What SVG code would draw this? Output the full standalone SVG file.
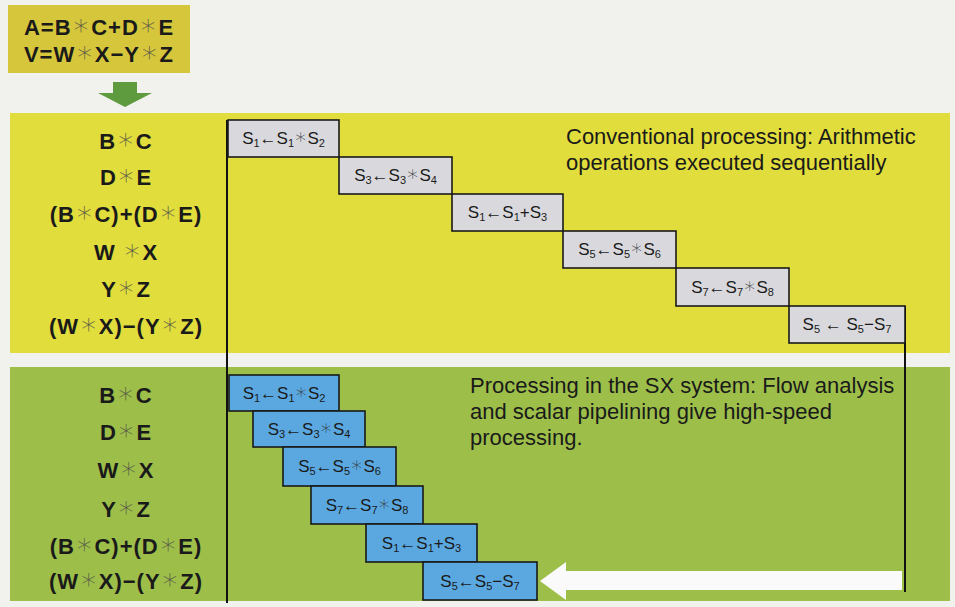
<svg xmlns="http://www.w3.org/2000/svg" width="955" height="607" viewBox="0 0 955 607">
  <style>
    .lab { font-family: "Liberation Sans", "DejaVu Sans", sans-serif; font-weight: bold; font-size: 22px; letter-spacing: 1px; fill: #1a1a1a; text-anchor: middle; }
    .ast { font-family: "DejaVu Sans", sans-serif; font-weight: 200; font-size: 1.35em; fill: #5a5a48; }
    .desc { font-family: "Liberation Sans", "DejaVu Sans", sans-serif; font-size: 22px; fill: #1a1a1a; }
    .op { font-family: "Liberation Sans", "DejaVu Sans", sans-serif; font-size: 17px; fill: #1a1a1a; text-anchor: middle; }
    .op .ast { fill: #333; font-size: 1.25em; }
    .sub { font-size: 11px; }
    .gray { fill: #d9d9dd; stroke: #1a1a1a; stroke-width: 1.6; }
    .blue { fill: #5ba8e0; stroke: #1a1a1a; stroke-width: 1.6; }
    .line { stroke: #111; stroke-width: 2; fill: none; }
  </style>

  <!-- page background -->
  <rect x="0" y="0" width="955" height="607" fill="#f1f1ee"/>

  <!-- source statements -->
  <g id="formula">
    <rect x="8" y="5" width="182" height="68" fill="#d6c63c"/>
    <text class="lab" x="99" y="35" font-size="20" letter-spacing="-0.2">A=B<tspan class="ast" font-size="0.9em">∗</tspan>C+D<tspan class="ast" font-size="0.9em">∗</tspan>E</text>
    <text class="lab" x="99" y="62" font-size="20" letter-spacing="-0.2">V=W<tspan class="ast" font-size="0.9em">∗</tspan>X−Y<tspan class="ast" font-size="0.9em">∗</tspan>Z</text>
  </g>

  <!-- down arrow -->
  <g id="down-arrow">
    <polygon points="113,82 137,82 137,93 152,93 125,107 98,93 113,93" fill="#5e9b3e"/>
  </g>

  <!-- panels -->
  <g id="panel-conventional">
    <rect x="10" y="113" width="940" height="240" fill="#e1dd3c"/>
  </g>
  <g id="panel-sx">
    <rect x="10" y="367" width="940" height="234" fill="#9dbf4a"/>
  </g>

  <!-- conventional operation labels -->
  <g id="labels-conventional">
    <text class="lab" x="126" y="149">B<tspan class="ast">∗</tspan>C</text>
    <text class="lab" x="126" y="185">D<tspan class="ast">∗</tspan>E</text>
    <text class="lab" x="126" y="222">(B<tspan class="ast">∗</tspan>C)+(D<tspan class="ast">∗</tspan>E)</text>
    <text class="lab" x="126" y="260">W <tspan class="ast">∗</tspan>X</text>
    <text class="lab" x="126" y="297">Y<tspan class="ast">∗</tspan>Z</text>
    <text class="lab" x="126" y="334">(W<tspan class="ast">∗</tspan>X)−(Y<tspan class="ast">∗</tspan>Z)</text>
  </g>

  <!-- SX operation labels -->
  <g id="labels-sx">
    <text class="lab" x="126" y="403">B<tspan class="ast">∗</tspan>C</text>
    <text class="lab" x="126" y="440">D<tspan class="ast">∗</tspan>E</text>
    <text class="lab" x="126" y="478">W<tspan class="ast">∗</tspan>X</text>
    <text class="lab" x="126" y="517">Y<tspan class="ast">∗</tspan>Z</text>
    <text class="lab" x="126" y="554">(B<tspan class="ast">∗</tspan>C)+(D<tspan class="ast">∗</tspan>E)</text>
    <text class="lab" x="126" y="589">(W<tspan class="ast">∗</tspan>X)−(Y<tspan class="ast">∗</tspan>Z)</text>
  </g>

  <!-- descriptions -->
  <g id="desc-conventional">
    <text class="desc" x="566" y="144">Conventional processing: Arithmetic</text>
    <text class="desc" x="566" y="170">operations executed sequentially</text>
  </g>
  <g id="desc-sx">
    <text class="desc" x="470" y="393">Processing in the SX system: Flow analysis</text>
    <text class="desc" x="470" y="419">and scalar pipelining give high-speed</text>
    <text class="desc" x="470" y="445">processing.</text>
  </g>

  <!-- connectors: time axes and return arrow -->
  <g id="connectors">
    <line class="line" x1="227" y1="120" x2="227" y2="603"/>
    <line class="line" x1="905" y1="306" x2="905" y2="592"/>
    <polygon points="540,581 566,562 566,571 902,571 902,590 566,590 566,600" fill="#fafafa"/>
  </g>

  <!-- conventional sequence -->
  <g id="c1"><rect class="gray" x="228" y="120" width="111" height="37"/>
    <text class="op" x="283.5" y="144">S<tspan class="sub" dy="3">1</tspan><tspan dy="-3">←S</tspan><tspan class="sub" dy="3">1</tspan><tspan dy="-3" class="ast">∗</tspan>S<tspan class="sub" dy="3">2</tspan></text></g>
  <g id="c2"><rect class="gray" x="339" y="157" width="113" height="37"/>
    <text class="op" x="395.5" y="181">S<tspan class="sub" dy="3">3</tspan><tspan dy="-3">←S</tspan><tspan class="sub" dy="3">3</tspan><tspan dy="-3" class="ast">∗</tspan>S<tspan class="sub" dy="3">4</tspan></text></g>
  <g id="c3"><rect class="gray" x="452" y="194" width="111" height="37"/>
    <text class="op" x="507.5" y="218">S<tspan class="sub" dy="3">1</tspan><tspan dy="-3">←S</tspan><tspan class="sub" dy="3">1</tspan><tspan dy="-3">+S</tspan><tspan class="sub" dy="3">3</tspan></text></g>
  <g id="c4"><rect class="gray" x="563" y="231" width="113" height="37"/>
    <text class="op" x="619.5" y="255">S<tspan class="sub" dy="3">5</tspan><tspan dy="-3">←S</tspan><tspan class="sub" dy="3">5</tspan><tspan dy="-3" class="ast">∗</tspan>S<tspan class="sub" dy="3">6</tspan></text></g>
  <g id="c5"><rect class="gray" x="676" y="268" width="113" height="38"/>
    <text class="op" x="732.5" y="292.5">S<tspan class="sub" dy="3">7</tspan><tspan dy="-3">←S</tspan><tspan class="sub" dy="3">7</tspan><tspan dy="-3" class="ast">∗</tspan>S<tspan class="sub" dy="3">8</tspan></text></g>
  <g id="c6"><rect class="gray" x="789" y="306" width="116" height="37"/>
    <text class="op" x="847" y="330">S<tspan class="sub" dy="3">5</tspan><tspan dy="-3"> ← S</tspan><tspan class="sub" dy="3">5</tspan><tspan dy="-3">−S</tspan><tspan class="sub" dy="3">7</tspan></text></g>

  <!-- SX pipelined sequence -->
  <g id="p1"><rect class="blue" x="229" y="375" width="110" height="36"/>
    <text class="op" x="284" y="398.5">S<tspan class="sub" dy="3">1</tspan><tspan dy="-3">←S</tspan><tspan class="sub" dy="3">1</tspan><tspan dy="-3" class="ast">∗</tspan>S<tspan class="sub" dy="3">2</tspan></text></g>
  <g id="p2"><rect class="blue" x="253" y="411" width="112" height="36"/>
    <text class="op" x="309" y="434.5">S<tspan class="sub" dy="3">3</tspan><tspan dy="-3">←S</tspan><tspan class="sub" dy="3">3</tspan><tspan dy="-3" class="ast">∗</tspan>S<tspan class="sub" dy="3">4</tspan></text></g>
  <g id="p3"><rect class="blue" x="283" y="447" width="113" height="39"/>
    <text class="op" x="339.5" y="472">S<tspan class="sub" dy="3">5</tspan><tspan dy="-3">←S</tspan><tspan class="sub" dy="3">5</tspan><tspan dy="-3" class="ast">∗</tspan>S<tspan class="sub" dy="3">6</tspan></text></g>
  <g id="p4"><rect class="blue" x="311" y="486" width="112" height="38"/>
    <text class="op" x="367" y="510.5">S<tspan class="sub" dy="3">7</tspan><tspan dy="-3">←S</tspan><tspan class="sub" dy="3">7</tspan><tspan dy="-3" class="ast">∗</tspan>S<tspan class="sub" dy="3">8</tspan></text></g>
  <g id="p5"><rect class="blue" x="366" y="524" width="111" height="38"/>
    <text class="op" x="421.5" y="548.5">S<tspan class="sub" dy="3">1</tspan><tspan dy="-3">←S</tspan><tspan class="sub" dy="3">1</tspan><tspan dy="-3">+S</tspan><tspan class="sub" dy="3">3</tspan></text></g>
  <g id="p6"><rect class="blue" x="423" y="562" width="114" height="38"/>
    <text class="op" x="480" y="586.5">S<tspan class="sub" dy="3">5</tspan><tspan dy="-3">←S</tspan><tspan class="sub" dy="3">5</tspan><tspan dy="-3">−S</tspan><tspan class="sub" dy="3">7</tspan></text></g>
</svg>
